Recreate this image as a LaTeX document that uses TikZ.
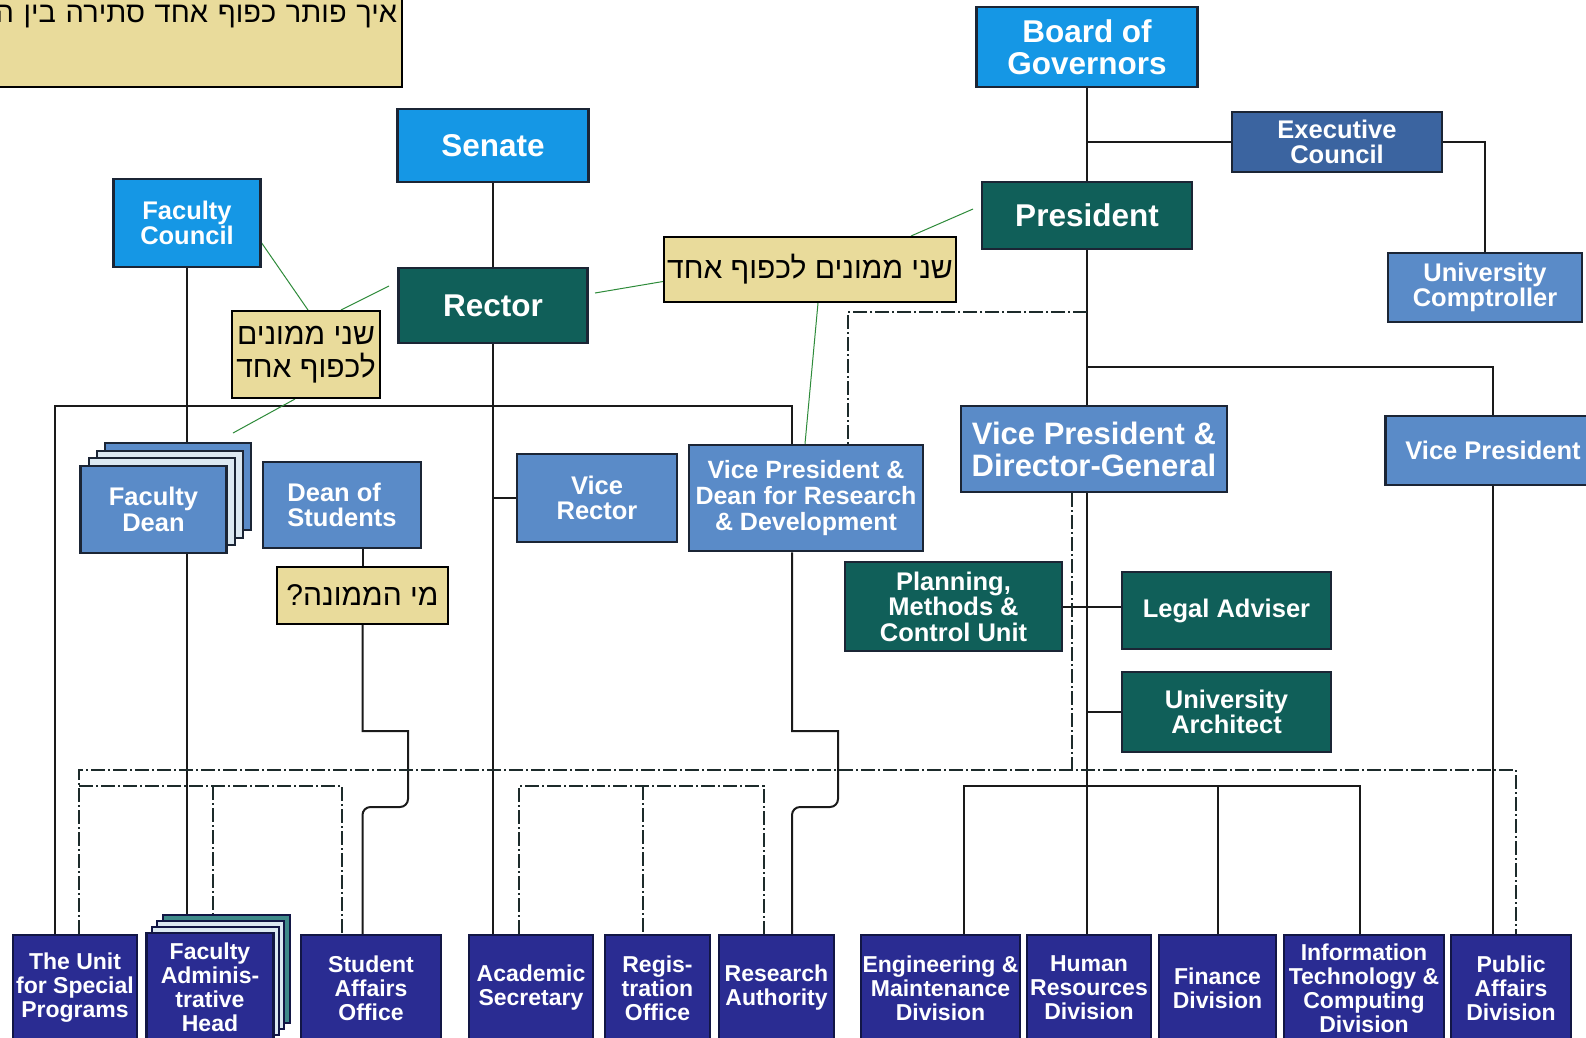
\documentclass[tikz,border=0pt]{standalone}
\usepackage{fontspec}
\setmainfont{Liberation Sans}
\newfontfamily\hebfont[Script=Hebrew]{Liberation Sans}
\TeXXeTstate=1
\usepackage{tikz}
\usetikzlibrary{backgrounds}
\definecolor{govblue}{HTML}{1597E5}
\definecolor{tealdark}{HTML}{105F59}
\definecolor{steelblue}{HTML}{5A8BC8}
\definecolor{execblue}{HTML}{3B64A0}
\definecolor{navyunit}{HTML}{2A2C92}
\definecolor{navyframe}{HTML}{121645}
\definecolor{boxframe}{HTML}{1B2535}
\definecolor{cardlight}{HTML}{DCE9F2}
\definecolor{cardteal}{HTML}{3F8A8A}
\definecolor{notefill}{HTML}{E9DB9B}
\definecolor{linkdark}{HTML}{1A1A1A}
\definecolor{dashdark}{HTML}{1D2B2B}
\definecolor{leadgreen}{HTML}{2E8B3A}

\begin{document}
\begin{tikzpicture}[
    x=1pt, y=-1pt,
    box/.style={draw=boxframe, line width=2.5pt, inner sep=0pt, align=center, text=white,
                font=\bfseries\fontsize{25.5}{25.5}\selectfont},
    bigbox/.style={box, font=\bfseries\fontsize{31.5}{32}\selectfont},
    card/.style={draw=boxframe, line width=2pt, minimum width=146pt, minimum height=87pt, inner sep=0pt},
    unitcard/.style={draw=navyframe, line width=2pt, minimum width=127pt, minimum height=108pt, inner sep=0pt},
    unitbox/.style={box, fill=navyunit, draw=navyframe, minimum height=106pt,
                font=\bfseries\fontsize{23}{24}\selectfont},
    note/.style={draw=black, line width=2pt, fill=notefill, inner sep=0pt,
                font=\hebfont\fontsize{30}{33}\selectfont},
    link/.style={line width=2pt, draw=linkdark},
    dotlink/.style={line width=2.5pt, draw=dashdark, dash pattern=on 14pt off 3pt on 2pt off 3pt},
    leader/.style={line width=1pt, draw=leadgreen}
]
    \useasboundingbox (0,0) rectangle (1586,1037);

    % === GOVERNING BODIES ===
    \node[bigbox, fill=govblue, minimum width=221pt, minimum height=80pt] (board) at (1087,47) {Board of\\Governors};
    \node[box, fill=execblue, minimum width=210pt, minimum height=60pt] (exec) at (1337,142) {Executive\\Council};
    \node[bigbox, fill=tealdark, minimum width=210pt, minimum height=67pt] (president) at (1087,215.5) {President};
    \node[box, fill=steelblue, minimum width=194pt, minimum height=69pt] (comptroller) at (1485,287.5) {University\\Comptroller};
    \node[bigbox, fill=govblue, minimum width=191pt, minimum height=73pt] (senate) at (493,145.5) {Senate};
    \node[bigbox, fill=tealdark, minimum width=189pt, minimum height=75pt] (rector) at (493,305.5) {Rector};
    \node[box, fill=govblue, minimum width=147pt, minimum height=88pt] (fcouncil) at (187,223) {Faculty\\Council};

    % === MIDDLE LEVEL ===
    % stacked faculty deans
    \node[card, fill=steelblue] (fdean3) at (177.5,486.4) {};
    \node[card, fill=cardlight] (fdean2) at (169.5,494.1) {};
    \node[card, fill=cardlight] (fdean1) at (161.5,501.8) {};
    \node[box, fill=steelblue, minimum width=146pt, minimum height=87pt] (fdean) at (153.5,509.5) {Faculty\\Dean};
    \node[box, fill=steelblue, minimum width=158pt, minimum height=86pt, align=left] (dstudents) at (342,505) {Dean of\\Students};
    \node[box, fill=steelblue, minimum width=160pt, minimum height=88pt] (vrector) at (597,498) {Vice\\Rector};
    \node[box, fill=steelblue, minimum width=234pt, minimum height=106pt,
          font=\bfseries\fontsize{25}{26}\selectfont] (vprd) at (806,498) {Vice President \&\\Dean for Research\\\& Development};
    \node[bigbox, fill=steelblue, minimum width=266pt, minimum height=86pt,
          font=\bfseries\fontsize{31}{32}\selectfont] (vpdg) at (1094,449) {Vice President \&\\Director-General};
    \node[box, fill=steelblue, minimum width=215pt, minimum height=69pt] (vp) at (1493,450.5) {Vice President};
    \node[box, fill=tealdark, minimum width=217pt, minimum height=89pt] (planning) at (953.5,606.5) {Planning,\\Methods \&\\Control Unit};
    \node[box, fill=tealdark, minimum width=209pt, minimum height=77pt] (legal) at (1226.5,610.5) {Legal Adviser};
    \node[box, fill=tealdark, minimum width=209pt, minimum height=80pt] (architect) at (1226.5,712) {University\\Architect};

    % === UNITS ===
    \node[unitbox, minimum width=124pt] (unit) at (75,988) {The Unit\\for Special\\Programs};
    \node[unitcard, fill=cardteal] (fadmin3) at (226.5,969) {};
    \node[unitcard, fill=cardlight] (fadmin2) at (220.5,975) {};
    \node[unitcard, fill=cardlight] (fadmin1) at (215.5,981) {};
    \node[unitbox, minimum width=127pt, minimum height=108pt] (fadmin) at (210,987) {Faculty\\Adminis-\\trative\\Head};
    \node[unitbox, minimum width=140pt] (saffairs) at (371,988) {Student\\Affairs\\Office};
    \node[unitbox, minimum width=124pt] (acsec) at (531,988) {Academic\\Secretary};
    \node[unitbox, minimum width=105pt] (regis) at (657.5,988) {Regis-\\tration\\Office};
    \node[unitbox, minimum width=115pt] (research) at (776.5,988) {Research\\Authority};
    \node[unitbox, minimum width=159pt] (engineering) at (940.5,988) {Engineering \&\\Maintenance\\Division};
    \node[unitbox, minimum width=124pt] (hr) at (1089,988) {Human\\Resources\\Division};
    \node[unitbox, minimum width=117pt] (finance) at (1217.5,988) {Finance\\Division};
    \node[unitbox, minimum width=160pt] (itc) at (1364,988) {Information\\Technology \&\\Computing\\Division};
    \node[unitbox, minimum width=120pt] (paffairs) at (1511,988) {Public\\Affairs\\Division};

    % === NOTES ===
    \node[note, anchor=south east, text width=500pt, align=right, inner xsep=5pt, inner ysep=4pt,
          font=\hebfont\fontsize{29}{33}\selectfont] (puzzle) at (403,88)
          {\rule{0pt}{40pt}\beginR איך פותר כפוף אחד סתירה בין ה\endR\\[28pt]\mbox{}};
    \node[note, minimum width=292pt, minimum height=65pt] (note2) at (810,269.5) {\beginR שני ממונים לכפוף אחד\endR};
    \node[note, minimum width=148pt, minimum height=87pt, align=center] (note3) at (306,354.5) {\beginR שני ממונים\endR\\\beginR לכפוף אחד\endR};
    \node[note, minimum width=171pt, minimum height=57pt] (note4) at (362.5,595.5) {\beginR מי הממונה?\endR};

    \begin{pgfonlayer}{background}
        \fill[white] (0,0) rectangle (1586,1037);

        % === SOLID LINKS ===
        \draw[link] (board.south) -- (president.north);
        \draw[link] (president.south) -- (president.south |- vpdg.north);
        \draw[link] (vpdg.south -| president.south) -- (hr.north -| president.south);
        \draw[link] (board.south |- exec.west) -- (exec.west);
        \draw[link] (exec.east) -| (comptroller.north);
        \coordinate (vpjoin) at (1087,367);
        \draw[link] (vpjoin) -| (vp.north);
        \draw[link] (vp.south) -- (vp.south |- paffairs.north);
        \draw[link] (planning.east) -- (planning.east -| legal.west);
        \draw[link] (architect.west -| president.south) -- (architect.west);

        \coordinate (divL) at (964,786);
        \coordinate (divR) at (1360,786);
        \draw[link] (divL |- engineering.north) -- (divL) -- (divR) -- (divR |- itc.north);
        \draw[link] (finance.north) -- (finance.north |- divL);

        \coordinate (acadL) at (55,406);
        \coordinate (acadR) at (792,406);
        \draw[link] (acadL |- unit.north) -- (acadL) -- (acadR) -- (acadR |- vprd.north);
        \draw[link] (senate.south) -- (rector.north);
        \draw[link] (rector.south) -- (rector.south |- acsec.north);
        \draw[link] (rector.south |- vrector.west) -- (vrector.west);
        \draw[link] (fcouncil.south) -- (fcouncil.south |- fadmin3.north);

        % hops over the dotted line
        \draw[link] (note4.north) -- (note4.north |- dstudents.south);
        \coordinate (hopA) at (408,731);
        \coordinate (hopB) at (408,807);
        \draw[link] (note4.south) -- (note4.south |- hopA) -- (hopA) [rounded corners=8pt] -- (hopB)
            -- (hopB -| note4.south) [sharp corners] -- (saffairs.north -| note4.south);
        \coordinate (rdA) at (838,731);
        \coordinate (rdB) at (838,807);
        \draw[link] (acadR |- vprd.south) -- (acadR |- rdA) -- (rdA) [rounded corners=8pt] -- (rdB)
            -- (rdB -| acadR) [sharp corners] -- (acadR |- research.north);

        % === DOTTED LINKS ===
        \coordinate (rdjoin) at (848,312);
        \draw[dotlink] (president.south |- rdjoin) -- (rdjoin) -- (rdjoin |- vprd.north);
        \coordinate (mainL) at (79,770);
        \coordinate (mainR) at (1516,770);
        \draw[dotlink] (mainL |- unit.north) -- (mainL) -- (mainR) -- (mainR |- paffairs.north);
        \coordinate (dgdash) at (1072,770);
        \draw[dotlink] (dgdash |- vpdg.south) -- (dgdash);

        \coordinate (facL) at (79,786);
        \coordinate (facM) at (213,786);
        \coordinate (facR) at (342,786);
        \draw[dotlink] (facL) -- (facR) -- (facR |- saffairs.north);
        \draw[dotlink] (facM) -- (facM |- fadmin3.north);

        \coordinate (regL) at (519,786);
        \coordinate (regM) at (643,786);
        \coordinate (regR) at (764,786);
        \draw[dotlink] (regL |- acsec.north) -- (regL) -- (regR) -- (regR |- research.north);
        \draw[dotlink] (regM) -- (regM |- regis.north);

        % === NOTE LEADERS ===
        \coordinate (fcTip) at (261,242);
        \coordinate (rcTipL) at (389,286);
        \coordinate (fdTip) at (233,433);
        \coordinate (rcTipR) at (595,293);
        \coordinate (prTip) at (973,209);
        \draw[leader] ([xshift=2pt]note3.north) -- (fcTip);
        \draw[leader] ([xshift=35pt]note3.north) -- (rcTipL);
        \draw[leader] ([xshift=-11pt]note3.south) -- (fdTip);
        \draw[leader] ([yshift=-12pt]note2.west) -- (rcTipR);
        \draw[leader] ([xshift=101pt]note2.north) -- (prTip);
        \draw[leader] ([xshift=8pt]note2.south) -- ([xshift=-1pt]vprd.north);
    \end{pgfonlayer}
\end{tikzpicture}
\end{document}
